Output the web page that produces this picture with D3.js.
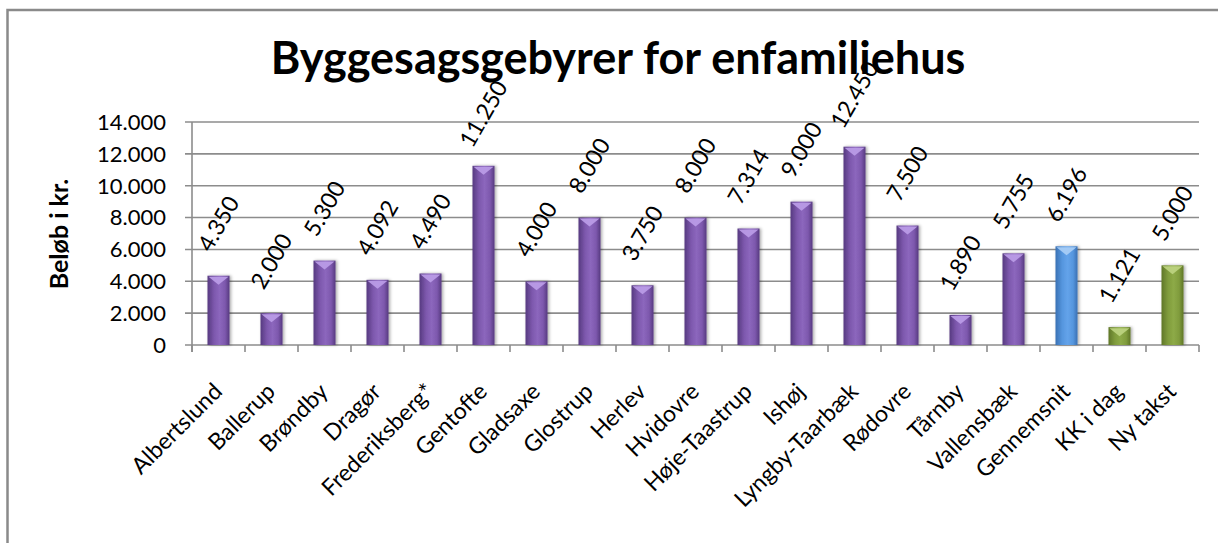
<!DOCTYPE html>
<html>
<head>
<meta charset="utf-8">
<script src="https://cdn.jsdelivr.net/npm/d3@7/dist/d3.min.js"></script>
<style>
  html, body { margin: 0; padding: 0; background: #fff; }
  svg { display: block; }
  text { font-family: Lato, "Open Sans", sans-serif; fill: #000; }
</style>
</head>
<body>
<svg id="chart" width="1218" height="543"></svg>
<script>
// ---- data ----
const categories = ["Albertslund","Ballerup","Brøndby","Dragør","Frederiksberg*","Gentofte","Gladsaxe","Glostrup","Herlev","Hvidovre","Høje-Taastrup","Ishøj","Lyngby-Taarbæk","Rødovre","Tårnby","Vallensbæk","Gennemsnit","KK i dag","Ny takst"];
const values = [4350,2000,5300,4092,4490,11250,4000,8000,3750,8000,7314,9000,12450,7500,1890,5755,6196,1121,5000];
const groups = ["k","k","k","k","k","k","k","k","k","k","k","k","k","k","k","k","avg","kk","kk"];
const yTicks = [0,2000,4000,6000,8000,10000,12000,14000];
const titleText = "Byggesagsgebyrer for enfamiliehus";
const yTitle = "Beløb i kr.";

// ---- setup ----
const W = 1218, H = 543;
const plot = {left: 192, right: 1199, top: 122, bottom: 345};
const svg = d3.select("#chart");
const loc = d3.formatLocale({decimal: ",", thousands: ".", grouping: [3], currency: ["", " kr."]});
const fmt = loc.format(",.0f");

const x = d3.scaleBand().domain(categories).range([plot.left, plot.right]).paddingInner(0).paddingOuter(0);
const y = d3.scaleLinear().domain([0, 14000]).range([plot.bottom, plot.top]);

const palette = {
  k:   {edge: "#563a80", mid: "#7d58ad", light: "#8c67bd", tri: "#b99be6"},
  avg: {edge: "#3a70b3", mid: "#5596de", light: "#64a3ea", tri: "#a6ccf5"},
  kk:  {edge: "#5f7627", mid: "#809c3d", light: "#8daa47", tri: "#bcd27e"}
};

const defs = svg.append("defs");
Object.entries(palette).forEach(([key, c]) => {
  const g = defs.append("linearGradient").attr("id", "grad-" + key)
    .attr("x1", "0%").attr("x2", "100%").attr("y1", "0%").attr("y2", "0%");
  g.append("stop").attr("offset", "0%").attr("stop-color", c.edge);
  g.append("stop").attr("offset", "30%").attr("stop-color", c.mid);
  g.append("stop").attr("offset", "55%").attr("stop-color", c.light);
  g.append("stop").attr("offset", "80%").attr("stop-color", c.mid);
  g.append("stop").attr("offset", "100%").attr("stop-color", c.edge);
});
const f = defs.append("filter").attr("id", "shadow").attr("x", "-30%").attr("y", "-10%").attr("width", "160%").attr("height", "120%");
f.append("feDropShadow").attr("dx", 1.5).attr("dy", 0).attr("stdDeviation", 1.5).attr("flood-color", "#000").attr("flood-opacity", 0.35);

// outer border
svg.append("rect").attr("x", 7.5).attr("y", 10).attr("width", W + 20).attr("height", H + 20)
  .attr("fill", "none").attr("stroke", "#8a8a8a").attr("stroke-width", 2.5);

// gridlines
svg.append("g").selectAll("line").data(yTicks).join("line")
  .attr("x1", plot.left - 7).attr("x2", plot.right)
  .attr("y1", d => y(d)).attr("y2", d => y(d))
  .attr("stroke", "#8c8c8c").attr("stroke-width", 1.6);

// y axis line
svg.append("line").attr("x1", plot.left).attr("x2", plot.left)
  .attr("y1", plot.top).attr("y2", plot.bottom + 7)
  .attr("stroke", "#8c8c8c").attr("stroke-width", 1.6);

// x ticks (category boundaries)
const bounds = categories.map(c => x(c)).concat([plot.right]);
svg.append("g").selectAll("line").data(bounds).join("line")
  .attr("x1", d => d).attr("x2", d => d)
  .attr("y1", plot.bottom).attr("y2", plot.bottom + 7)
  .attr("stroke", "#8c8c8c").attr("stroke-width", 1.6);

// y tick labels
svg.append("g").selectAll("text").data(yTicks).join("text")
  .attr("x", 166).attr("y", d => y(d)).attr("dy", "0.36em")
  .attr("text-anchor", "end").attr("font-size", 22)
  .text(d => fmt(d));

// bars
const barW = 22;
const bars = svg.append("g").selectAll("g").data(values).join("g")
  .attr("filter", "url(#shadow)");
bars.append("rect")
  .attr("x", (d, i) => x(categories[i]) + x.bandwidth() / 2 - barW / 2)
  .attr("y", d => y(d))
  .attr("width", barW)
  .attr("height", d => y(0) - y(d))
  .attr("fill", (d, i) => "url(#grad-" + groups[i] + ")");
bars.append("path")
  .attr("d", (d, i) => {
    const cx = x(categories[i]) + x.bandwidth() / 2;
    const t = y(d);
    return `M${cx - barW / 2 + 1},${t + 1} L${cx + barW / 2 - 1},${t + 1} L${cx},${t + 9} Z`;
  })
  .attr("fill", (d, i) => palette[groups[i]].tri).attr("opacity", 0.95);

// data labels
svg.append("g").selectAll("text").data(values).join("text")
  .attr("transform", (d, i) => `translate(${x(categories[i]) + x.bandwidth() / 2},${y(d) - 52}) rotate(-60)`)
  .attr("text-anchor", "middle").attr("dy", "0.35em")
  .attr("font-size", 23)
  .text(d => fmt(d));

// x labels
svg.append("g").selectAll("text").data(categories).join("text")
  .attr("transform", d => `translate(${x(d) + x.bandwidth() / 2 + 5},${plot.bottom + 48}) rotate(-45)`)
  .attr("text-anchor", "end")
  .attr("font-size", 23)
  .text(d => d);

// y title
svg.append("text")
  .attr("transform", `translate(68,234) rotate(-90)`)
  .attr("text-anchor", "middle").attr("font-weight", "bold").attr("font-size", 25)
  .text(yTitle);

// chart title
svg.append("text")
  .attr("x", 618).attr("y", 74)
  .attr("text-anchor", "middle").attr("font-weight", "bold").attr("font-size", 45)
  .text(titleText);
</script>
</body>
</html>
